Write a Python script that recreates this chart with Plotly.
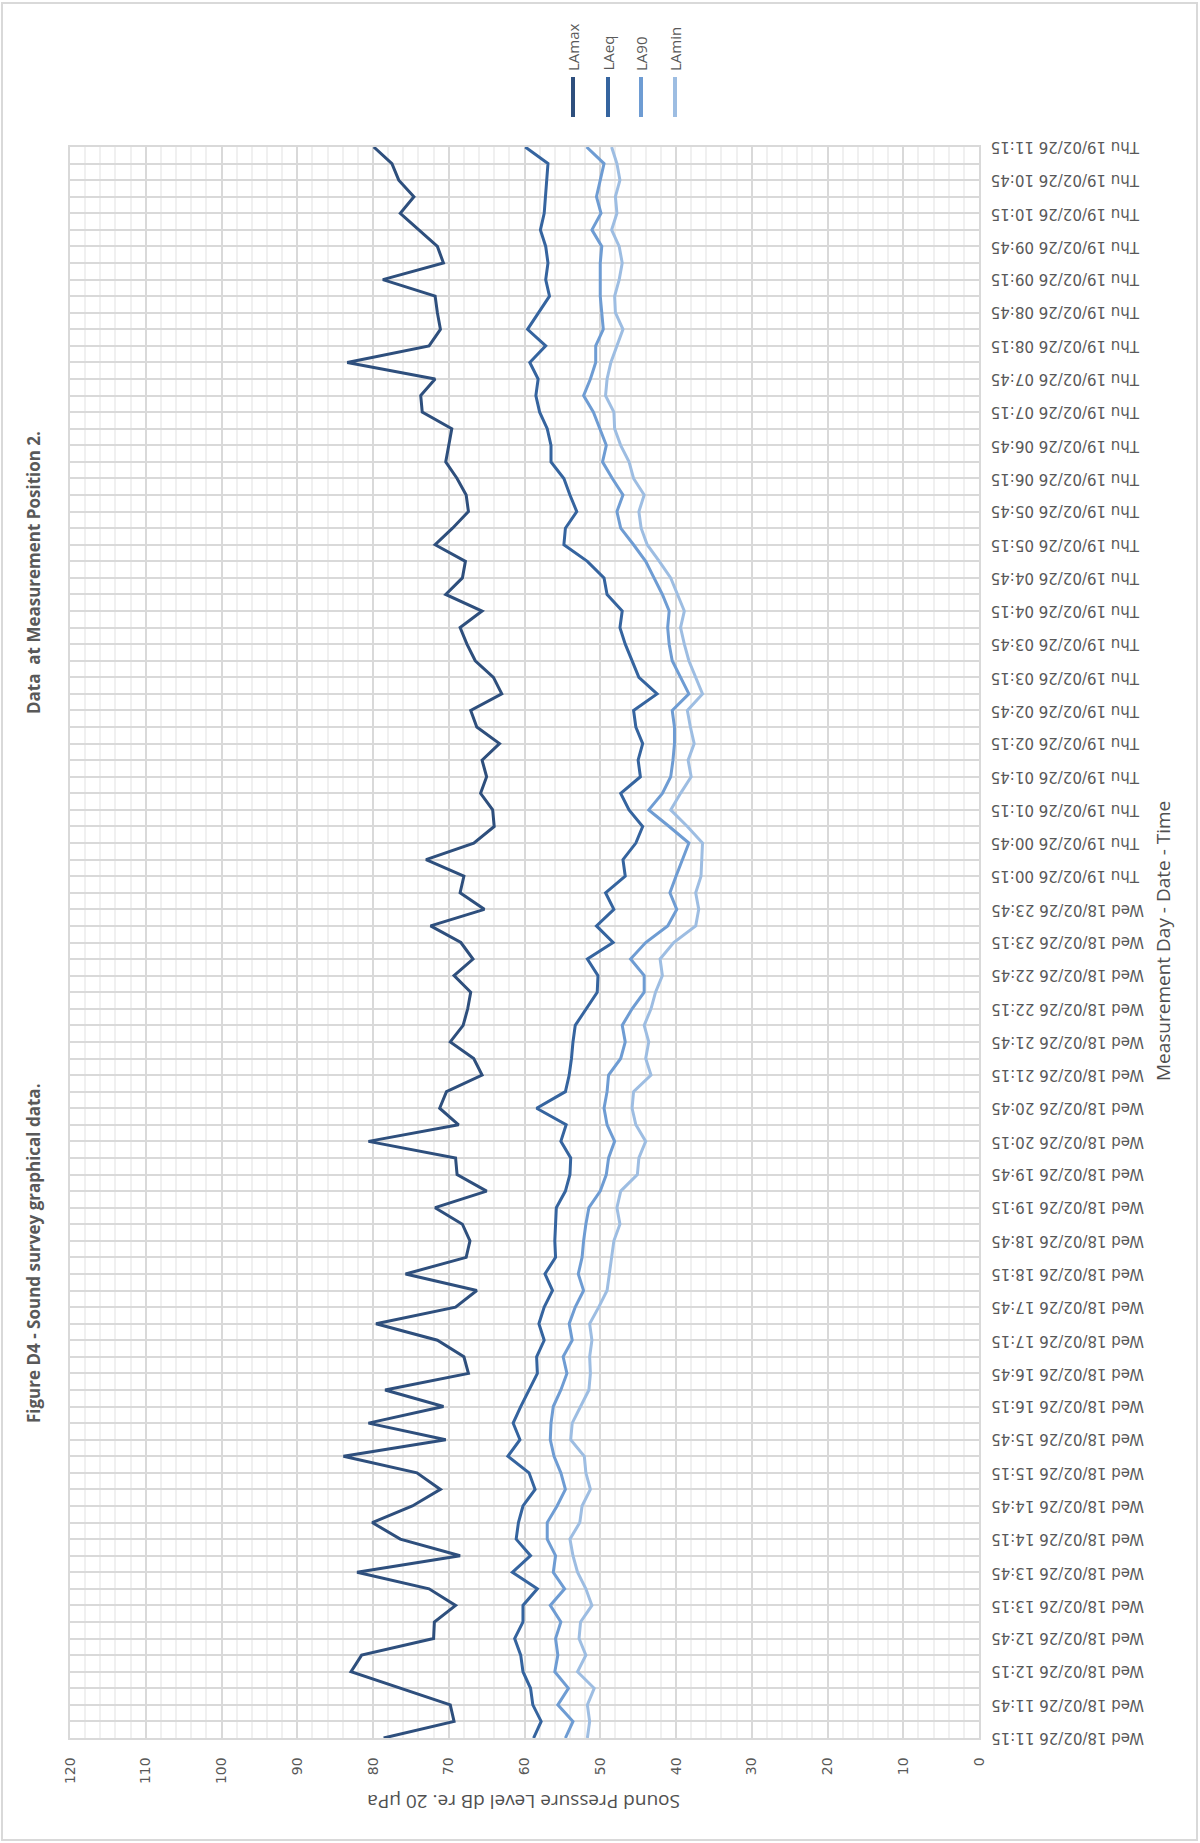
import pandas as pd
import plotly.graph_objects as go

# ---- data -------------------------------------------------------------
# 15-minute measurement periods, Wed 18/02/26 11:15 to Thu 19/02/26 11:15
periods = pd.date_range("2026-02-18 11:15", "2026-02-19 11:15", freq="15min")
time_labels = [t.strftime("%a %d/%m/%y %H:%M") for t in periods]

la_max = [78.6, 69.3, 69.8, 76.4, 82.9, 81.5, 72.0, 71.9, 69.1, 72.6,
          82.1, 68.5, 76.4, 80.1, 74.8, 71.1, 74.2, 83.9, 70.4, 80.6,
          70.7, 78.4, 67.4, 68.0, 71.5, 79.6, 69.1, 66.3, 75.7, 67.7,
          67.2, 68.2, 71.8, 65.0, 68.9, 69.1, 80.6, 68.7, 71.2, 70.3,
          65.6, 66.7, 69.8, 68.1, 67.5, 67.1, 69.3, 66.8, 68.4, 72.4,
          65.3, 68.5, 68.0, 73.0, 66.7, 64.0, 64.2, 65.8, 65.0, 65.6,
          63.3, 66.3, 67.1, 63.0, 64.1, 66.5, 67.6, 68.5, 65.6, 70.4,
          68.2, 67.8, 71.8, 69.5, 67.4, 67.7, 68.9, 70.4, 70.0, 69.6,
          73.5, 73.7, 71.8, 83.4, 72.6, 71.1, 71.5, 71.8, 78.7, 70.7,
          71.5, 74.0, 76.4, 74.6, 76.6, 77.5, 79.9]

la_eq = [58.8, 57.8, 58.9, 59.2, 60.2, 60.5, 61.3, 60.2, 60.2, 58.3,
         61.6, 59.2, 61.1, 60.8, 60.2, 58.6, 59.4, 62.2, 60.6, 61.5,
         60.5, 59.4, 58.3, 58.4, 57.4, 58.1, 57.4, 56.3, 57.3, 55.9,
         56.0, 55.9, 55.8, 54.6, 54.0, 53.9, 55.2, 54.5, 58.4, 54.6,
         54.1, 53.8, 53.6, 53.3, 51.8, 50.4, 50.3, 51.7, 48.3, 50.5,
         48.2, 49.3, 46.7, 47.0, 45.3, 44.4, 46.2, 47.3, 44.7, 45.0,
         44.4, 45.3, 45.6, 42.5, 44.9, 45.8, 46.7, 47.4, 47.1, 49.1,
         49.5, 51.7, 54.8, 54.6, 53.1, 54.0, 54.8, 56.5, 56.5, 57.0,
         58.0, 58.5, 58.2, 59.3, 57.2, 59.6, 58.1, 56.7, 57.2, 56.9,
         57.2, 57.9, 57.4, 57.2, 57.1, 56.9, 59.9]

la_90 = [54.6, 53.6, 55.6, 54.2, 56.0, 55.6, 55.9, 55.2, 56.6, 54.7,
         56.2, 55.9, 57.0, 57.0, 55.7, 54.6, 55.2, 56.1, 56.6, 56.5,
         56.2, 55.2, 54.4, 54.9, 53.7, 54.1, 53.3, 52.2, 52.9, 52.4,
         52.2, 51.9, 51.5, 50.0, 49.2, 48.9, 48.1, 49.1, 49.5, 49.1,
         48.9, 47.3, 46.7, 47.1, 45.8, 44.2, 44.2, 46.0, 44.0, 41.1,
         39.9, 40.8, 40.0, 39.2, 38.3, 40.9, 43.6, 41.8, 40.7, 40.4,
         40.2, 40.2, 40.5, 38.3, 39.4, 40.5, 40.9, 41.1, 40.9, 41.8,
         42.9, 44.0, 45.6, 47.3, 47.8, 47.0, 48.4, 49.7, 49.2, 50.0,
         50.9, 52.2, 51.3, 50.6, 50.6, 49.6, 49.8, 50.0, 50.0, 50.0,
         49.8, 51.1, 49.9, 50.5, 50.0, 49.5, 51.8]

la_min = [51.7, 51.4, 51.7, 50.8, 53.0, 51.9, 52.8, 52.6, 51.1, 51.9,
          53.0, 53.6, 54.0, 52.7, 52.4, 51.3, 51.9, 52.1, 53.9, 53.7,
          52.6, 51.5, 51.3, 51.4, 51.1, 51.4, 50.2, 49.1, 48.8, 48.5,
          48.2, 47.4, 47.8, 47.3, 45.1, 44.9, 44.0, 45.3, 45.8, 45.6,
          43.3, 44.0, 43.6, 44.2, 43.3, 42.7, 41.8, 42.1, 40.3, 37.4,
          37.0, 37.4, 36.7, 36.6, 36.5, 38.5, 40.7, 39.4, 38.0, 38.4,
          37.6, 38.1, 38.5, 36.5, 37.4, 38.3, 38.9, 39.4, 38.9, 39.8,
          40.7, 42.2, 43.8, 44.6, 44.9, 44.2, 45.6, 46.2, 47.3, 48.1,
          48.2, 49.3, 49.1, 48.6, 47.8, 47.0, 48.0, 48.1, 47.5, 47.1,
          47.5, 48.5, 47.8, 48.0, 47.4, 47.8, 48.5]

series_names = ["LAmax", "LAeq", "LA90", "LAmin"]
series_values = [la_max, la_eq, la_90, la_min]
series_colors = ["#2E4F7D", "#35649F", "#6E9CD3", "#9DBDE2"]

level_ticks = list(range(0, 121, 10))
label_every = 2  # a time label on every second period

# ---- page geometry ------------------------------------------------------
W, H = 1200, 1843
ML, MR, MT, MB = 70, 221, 147, 105
PW, PH = W - ML - MR, H - MT - MB


def fx(px):
    """pixel column -> paper x"""
    return (px - ML) / PW


def fy(py):
    """pixel row -> paper y"""
    return (H - MB - py) / PH


GREY = "#595959"
GRID = "#D9D9D9"
MINOR = "#F0F0F0"
TICK_FONT = dict(family="DejaVu Sans", size=14, color=GREY)

fig = go.Figure()

# level runs horizontally (reversed), time runs upward
for name, vals, color in zip(series_names, series_values, series_colors):
    fig.add_trace(go.Scatter(
        x=vals, y=time_labels, mode="lines", name=name,
        line=dict(color=color, width=3), showlegend=False,
    ))

annotations = []

# time labels, drawn upside down to the right of the plot
for i in range(0, len(time_labels), label_every):
    annotations.append(dict(
        x=1, xref="paper", y=time_labels[i], yref="y",
        text=time_labels[i], textangle=180, showarrow=False,
        xanchor="left", yanchor="middle", xshift=10,
        font=dict(family="DejaVu Sans", size=15, color=GREY),
    ))

title_font = dict(family="Open Sans", size=17, color=GREY)
annotations += [
    dict(x=fx(33), y=fy(1254), xref="paper", yref="paper",
         text="<b>Figure D4 - Sound survey graphical data.</b>",
         textangle=-90, showarrow=False, font=title_font,
         xanchor="center", yanchor="middle"),
    dict(x=fx(33), y=fy(573), xref="paper", yref="paper",
         text="<b>Data  at Measurement Position 2.</b>",
         textangle=-90, showarrow=False, font=title_font,
         xanchor="center", yanchor="middle"),
    dict(x=fx(1163), y=fy(941), xref="paper", yref="paper",
         text="Measurement Day - Date - Time",
         textangle=-90, showarrow=False,
         font=dict(family="Open Sans", size=19, color="#505050"),
         xanchor="center", yanchor="middle"),
    dict(x=fx(524), y=fy(1802), xref="paper", yref="paper",
         text="Sound Pressure Level dB re. 20 µPa",
         textangle=180, showarrow=False,
         font=dict(family="Open Sans", size=19, color="#505050"),
         xanchor="center", yanchor="middle"),
]

shapes = [
    # chart border
    dict(type="rect", xref="paper", yref="paper",
         x0=fx(2), x1=fx(1197), y0=fy(1840), y1=fy(3),
         line=dict(color=GRID, width=2), fillcolor="rgba(0,0,0,0)", layer="below"),
]

# legend: vertical swatches with text reading upward
legend_x = [573, 608, 641, 675]
for lx, name, color in zip(legend_x, series_names, series_colors):
    shapes.append(dict(type="line", xref="paper", yref="paper",
                       x0=fx(lx), x1=fx(lx), y0=fy(117), y1=fy(77),
                       line=dict(color=color, width=4)))
    annotations.append(dict(x=fx(lx), y=fy(73), xref="paper", yref="paper",
                            text=name, textangle=-90, showarrow=False,
                            xanchor="center", yanchor="bottom",
                            font=dict(family="Open Sans", size=15, color=GREY)))

fig.update_layout(
    width=W, height=H,
    margin=dict(l=ML, r=MR, t=MT, b=MB, pad=0),
    paper_bgcolor="white", plot_bgcolor="white",
    showlegend=False,
    annotations=annotations,
    shapes=shapes,
    xaxis=dict(
        range=[120, 0], tickmode="array", tickvals=level_ticks,
        ticktext=[str(v) for v in level_ticks], tickangle=-90,
        showgrid=True, gridcolor=GRID, gridwidth=1.5,
        minor=dict(tickmode="linear", tick0=0, dtick=2, showgrid=True,
                   gridcolor=MINOR, gridwidth=1.5),
        zeroline=False, showline=True, linecolor=GRID, linewidth=1.5,
        mirror=True, ticks="", tickfont=TICK_FONT, ticklabelstandoff=12,
    ),
    yaxis=dict(
        type="category", range=[0, len(time_labels) - 1],
        tickmode="array", tickvals=time_labels, showticklabels=False,
        showgrid=True, gridcolor=GRID, gridwidth=1.5,
        zeroline=False, showline=True, linecolor=GRID, linewidth=1.5,
        mirror=True, ticks="",
    ),
)

fig.write_html("out.html")
